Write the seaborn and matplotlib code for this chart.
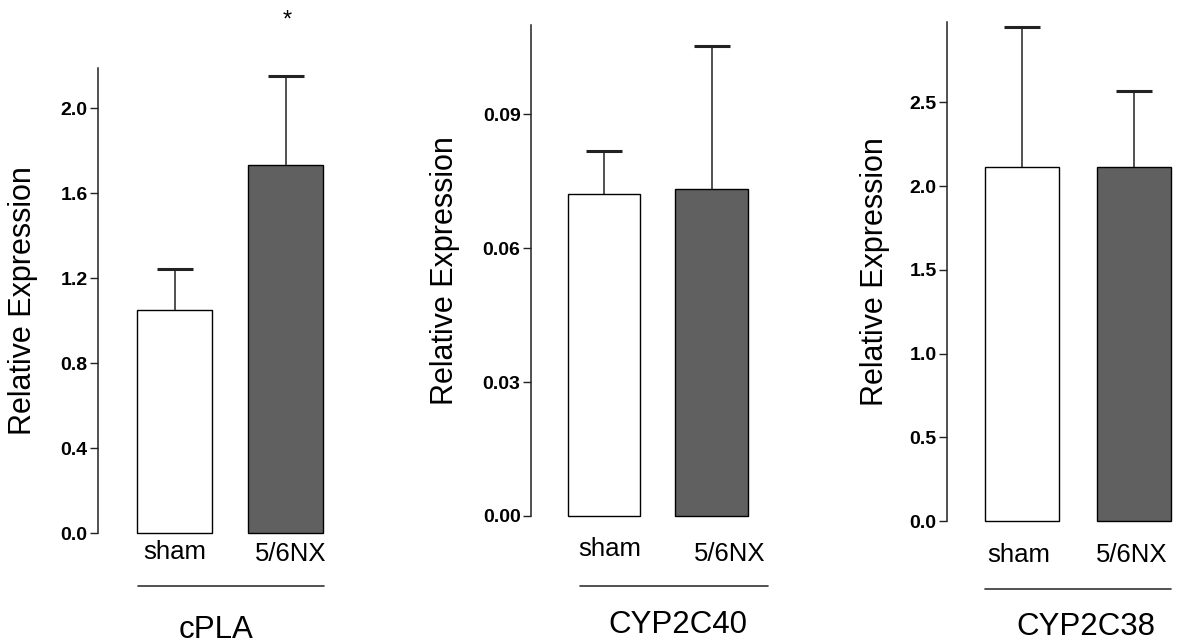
import matplotlib
matplotlib.use("Agg")
import matplotlib.pyplot as plt
import matplotlib.transforms as mtransforms
import seaborn as sns
import pandas as pd

# ---------------- data ----------------
groups = ["sham", "5/6NX"]
genes = ["cPLA", "CYP2C40", "CYP2C38"]

cpla_mean = [1.052, 1.731]
cpla_err = [0.193, 0.420]
cyp2c40_mean = [0.0721, 0.0732]
cyp2c40_err = [0.0096, 0.0320]
cyp2c38_mean = [2.112, 2.112]
cyp2c38_err = [0.841, 0.454]

cpla_ticks = [0.0, 0.4, 0.8, 1.2, 1.6, 2.0]
cyp2c40_ticks = [0.00, 0.03, 0.06, 0.09]
cyp2c38_ticks = [0.0, 0.5, 1.0, 1.5, 2.0, 2.5]
tick_formats = ["{:.1f}", "{:.2f}", "{:.1f}"]
cpla_marks = ["", "*"]

ylabel = "Relative Expression"
bar_colors = ["#ffffff", "#606060"]

# ---------------- style ----------------
sns.set_style("white")
plt.rcParams["font.family"] = ["Liberation Sans", "DejaVu Sans"]
plt.rcParams["text.color"] = "black"
plt.rcParams["axes.labelcolor"] = "black"
plt.rcParams["xtick.color"] = "black"
plt.rcParams["ytick.color"] = "black"

W, H = 1181, 644
fig = plt.figure(figsize=(W / 100, H / 100), dpi=100)
fig.patch.set_facecolor("white")

# layout in pixels for each panel
layout = [
    dict(left=98, bottom=533, top=68, c0=174.5, step=111.0, width=0.676,
         ymax=2.19, xmax=1.5, pad=5, lab_dx=[0, 5], lab_dy=[0, 2],
         line_y=586, line_dx=[1, 1], title_xy=(216, 630), ylab_x=23),
    dict(left=531, bottom=516, top=25, c0=604.0, step=107.5, width=0.670,
         ymax=0.110, xmax=1.5, pad=15, lab_dx=[6, 18], lab_dy=[0, 5],
         line_y=586, line_dx=[12, 20], title_xy=(678, 625), ylab_x=445),
    dict(left=947, bottom=521, top=22, c0=1022.0, step=112.0, width=0.660,
         ymax=2.98, xmax=1.4, pad=16, lab_dx=[-3, -2], lab_dy=[0, 0],
         line_y=589, line_dx=[0, 0], title_xy=(1086, 627), ylab_x=875),
]

means = [cpla_mean, cyp2c40_mean, cyp2c38_mean]
errs = [cpla_err, cyp2c40_err, cyp2c38_err]
ticks = [cpla_ticks, cyp2c40_ticks, cyp2c38_ticks]

for i, (gene, m, e, tk, fmt, L) in enumerate(zip(genes, means, errs, ticks, tick_formats, layout)):
    xmin = (L["left"] - L["c0"]) / L["step"]
    right = L["left"] + (L["xmax"] - xmin) * L["step"]
    ax = fig.add_axes([L["left"] / W, 1 - L["bottom"] / H,
                       (right - L["left"]) / W, (L["bottom"] - L["top"]) / H])
    df = pd.DataFrame({"group": groups, "value": m})
    sns.barplot(data=df, x="group", y="value", hue="group", palette=bar_colors,
                width=L["width"], edgecolor="black", linewidth=1.0,
                errorbar=None, legend=False, ax=ax, zorder=2)
    for p in ax.patches:
        p.set_clip_on(False)
    _, caps, _ = ax.errorbar(x=[0, 1], y=m, yerr=[[0, 0], e], fmt="none",
                             ecolor="#222222", elinewidth=1.1, capsize=13,
                             capthick=2.2, zorder=3)
    # keep only the upper caps (error bars drawn upward only)
    for cap in caps:
        yd = list(cap.get_ydata())
        if all(abs(a - b) < 1e-12 for a, b in zip(yd, m)):
            cap.set_visible(False)
    ax.set_xlim(xmin, L["xmax"])
    ax.set_ylim(0, L["ymax"])
    ax.set_yticks(tk)
    ax.set_yticklabels([fmt.format(t) for t in tk], fontsize=14, fontweight="bold")
    ax.tick_params(axis="y", length=6, width=1, pad=1.5, color="#222222", direction="out", left=True)
    ax.tick_params(axis="x", length=0, pad=L["pad"], labelsize=18.5)
    for sp in ["top", "right", "bottom"]:
        ax.spines[sp].set_visible(False)
    ax.spines["left"].set_linewidth(1.1)
    ax.spines["left"].set_color("#222222")
    ax.set_xlabel("")
    ax.set_ylabel(ylabel, fontsize=22, va="center")
    ax.yaxis.set_label_coords((L["ylab_x"] - L["left"]) / (right - L["left"]), 0.5)

    # small offsets of category labels
    for lab, dx, dy in zip(ax.get_xticklabels(), L["lab_dx"], L["lab_dy"]):
        lab.set_transform(lab.get_transform() +
                          mtransforms.ScaledTranslation(dx / 100, -dy / 100, fig.dpi_scale_trans))

    # underline below group labels
    x0 = 0 - L["width"] / 2 + L["line_dx"][0] / L["step"]
    x1 = 1 + L["width"] / 2 + L["line_dx"][1] / L["step"]
    trans = mtransforms.blended_transform_factory(ax.transData, fig.transFigure)
    ax.plot([x0, x1], [1 - L["line_y"] / H] * 2, color="#333333", lw=1.2,
            transform=trans, clip_on=False)

    # gene title
    fig.text(L["title_xy"][0] / W, 1 - L["title_xy"][1] / H, gene,
             fontsize=22.5, ha="center", va="center")

    if i == 0:
        for j, mk in enumerate(cpla_marks):
            if mk:
                ax.annotate(mk, xy=(j, m[j] + e[j]), xytext=(1, 40),
                            textcoords="offset points", ha="center", va="center",
                            fontsize=17, annotation_clip=False)

fig.savefig("out.png", dpi=100, facecolor="white")
